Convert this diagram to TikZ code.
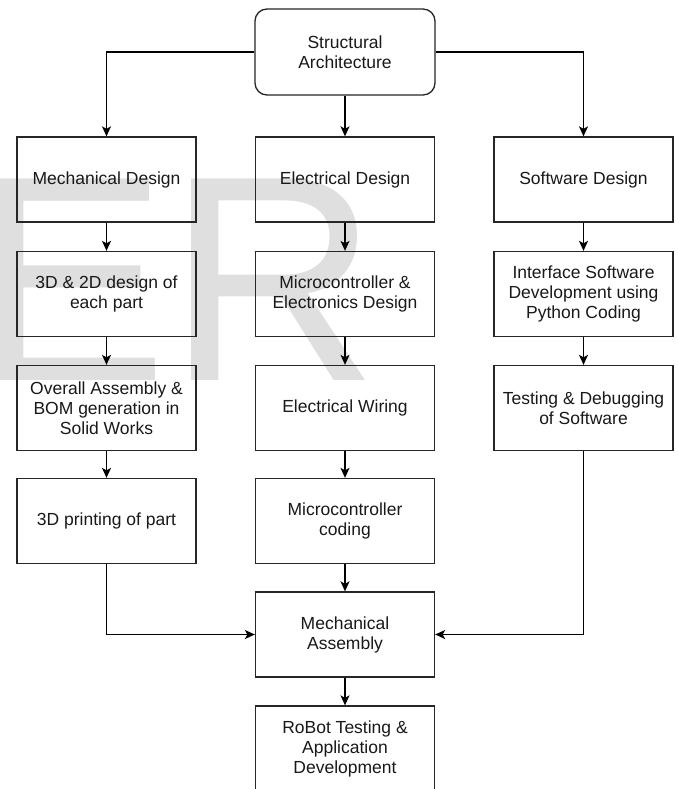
\documentclass[tikz,border=0pt]{standalone}
\usepackage{fontspec}
\setmainfont{Liberation Sans}
\usetikzlibrary{arrows.meta}
\begin{document}
\begin{tikzpicture}[x=1pt,y=-1pt,
  box/.style={draw=black!85, line width=1.3pt, minimum width=179pt, minimum height=85pt,
    align=center, inner sep=2pt, font=\fontsize{17.5}{20}\selectfont, text=black!90},
  conn/.style={draw=black, line width=1.3pt, -{Stealth[length=10pt,width=9pt,inset=2.5pt]}}]
\useasboundingbox (0,0) rectangle (679,789);
\clip (0,0) rectangle (679,789);
\fill[white] (0,0) rectangle (679,789);
% watermark
\node[anchor=base west, inner sep=0, text=gray!25, font=\fontsize{293}{293}\selectfont] (wm) at (-28,380) {ER};
% nodes
\node[box, rounded corners=12pt, minimum width=180pt, minimum height=86pt] (top) at (345,52) {Structural\\Architecture};
\node[box] (m1) at (106.5,179.5) {Mechanical Design};
\node[box] (m2) at (106.5,294) {3D \& 2D design of\\each part};
\node[box] (m3) at (106.5,408) {Overall Assembly \&\\BOM generation in\\Solid Works};
\node[box] (m4) at (106.5,521) {3D printing of part};
\node[box] (e1) at (345,179.5) {Electrical Design};
\node[box] (e2) at (345,294) {Microcontroller \&\\Electronics Design};
\node[box] (e3) at (345,408) {Electrical Wiring};
\node[box] (e4) at (345,521) {Microcontroller\\coding};
\node[box] (ma) at (345,634.5) {Mechanical\\Assembly};
\node[box] (rb) at (345,748.5) {RoBot Testing \&\\Application\\Development};
\node[box] (s1) at (583.5,179.5) {Software Design};
\node[box] (s2) at (583.5,294) {Interface Software\\Development using\\Python Coding};
\node[box] (s3) at (583.5,408) {Testing \& Debugging\\of Software};
% connectors
\draw[conn] (top.west) -| (m1.north);
\draw[conn] (top.east) -| (s1.north);
\draw[conn] (top.south) -- (e1.north);
\draw[conn] (m1) -- (m2);
\draw[conn] (m2) -- (m3);
\draw[conn] (m3) -- (m4);
\draw[conn] (e1) -- (e2);
\draw[conn] (e2) -- (e3);
\draw[conn] (e3) -- (e4);
\draw[conn] (e4) -- (ma);
\draw[conn] (ma) -- (rb);
\draw[conn] (s1) -- (s2);
\draw[conn] (s2) -- (s3);
\draw[conn] (m4.south) |- (ma.west);
\draw[conn] (s3.south) |- (ma.east);
\end{tikzpicture}
\end{document}
